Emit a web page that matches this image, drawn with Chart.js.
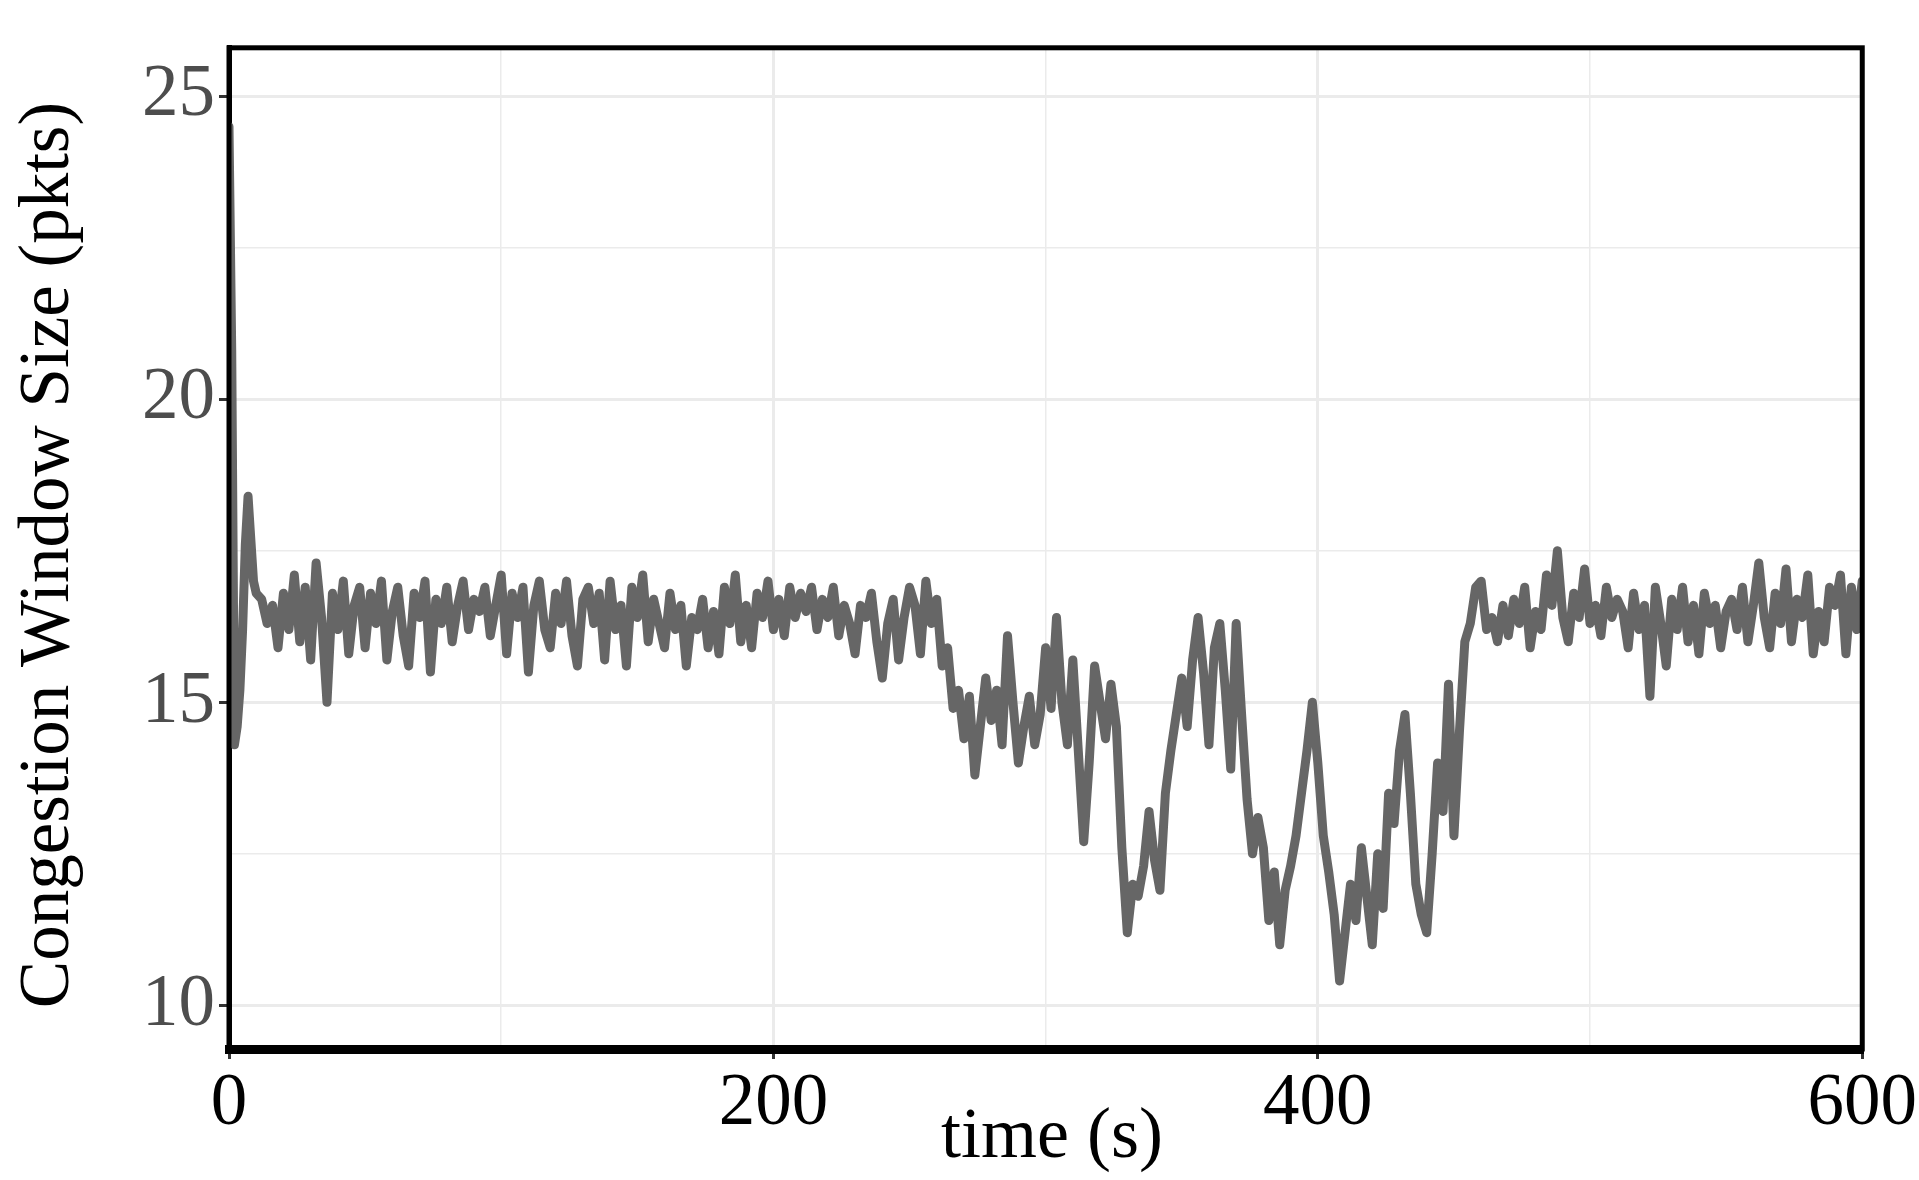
<!DOCTYPE html>
<html>
<head>
<meta charset="utf-8">
<script src="https://cdn.jsdelivr.net/npm/chart.js@4"></script>
<style>
html, body { margin: 0; padding: 0; background: #fff; }
#wrap { width: 1919px; height: 1180px; }
</style>
</head>
<body>
<div id="wrap"><canvas id="cwnd"></canvas></div>
<script>
// sample times (s): 0..10 every 1s, then every 2s up to 600
var startTimes = [0, 1, 2, 3, 4, 5, 6, 7, 8, 9, 10];
var cwndValues = [
  24.5, 20.8, 14.3, 14.6, 15.2, 16.2, 17.6, 18.4, 17.7, 17.0, 16.8,
  16.7, 16.3, 16.6, 15.9, 16.8, 16.2, 17.1, 16.0, 16.9, 15.7, 17.3, 16.4, 15.0, 16.8, 16.2, 17.0, 15.8, 16.6, 16.9, 15.9,
  16.8, 16.3, 17.0, 15.7, 16.5, 16.9, 16.1, 15.6, 16.8, 16.4, 17.0, 15.5, 16.7, 16.3, 16.9, 16.0, 16.6, 17.0, 16.2, 16.7,
  16.5, 16.9, 16.1, 16.6, 17.1, 15.8, 16.8, 16.4, 16.9, 15.5, 16.6, 17.0, 16.2, 15.9, 16.8, 16.3, 17.0, 16.1, 15.6, 16.7,
  16.9, 16.3, 16.8, 15.7, 17.0, 16.2, 16.6, 15.6, 16.9, 16.4, 17.1, 16.0, 16.7, 16.3, 15.9, 16.8, 16.2, 16.6, 15.6, 16.4,
  16.2, 16.7, 15.9, 16.5, 15.8, 16.9, 16.3, 17.1, 16.0, 16.6, 15.9, 16.8, 16.4, 17.0, 16.2, 16.7, 16.1, 16.9, 16.4, 16.8,
  16.5, 16.9, 16.2, 16.7, 16.4, 16.9, 16.1, 16.6, 16.3, 15.8, 16.6, 16.4, 16.8, 16.0, 15.4, 16.3, 16.7, 15.7, 16.4, 16.9,
  16.6, 15.8, 17.0, 16.3, 16.7, 15.6, 15.9, 14.9, 15.2, 14.4, 15.1, 13.8, 14.6, 15.4, 14.7, 15.2, 14.3, 16.1, 15.0, 14.0,
  14.6, 15.1, 14.3, 14.8, 15.9, 14.9, 16.4, 15.0, 14.3, 15.7, 14.2, 12.7, 14.0, 15.6, 15.0, 14.4, 15.3, 14.6, 12.6, 11.2,
  12.0, 11.8, 12.3, 13.2, 12.4, 11.9, 13.5, 14.2, 14.8, 15.4, 14.6, 15.7, 16.4, 15.5, 14.3, 15.9, 16.3, 15.2, 13.9, 16.3,
  14.8, 13.4, 12.5, 13.1, 12.6, 11.4, 12.2, 11.0, 11.9, 12.3, 12.8, 13.5, 14.2, 15.0, 14.0, 12.8, 12.2, 11.5, 10.4, 11.2,
  12.0, 11.4, 12.6, 11.8, 11.0, 12.5, 11.6, 13.5, 13.0, 14.2, 14.8, 13.5, 12.0, 11.5, 11.2, 12.5, 14.0, 13.2, 15.3, 12.8,
  14.5, 16.0, 16.3, 16.9, 17.0, 16.2, 16.4, 16.0, 16.6, 16.1,
  16.7, 16.3, 16.9, 15.9, 16.5, 16.2, 17.1, 16.6, 17.5, 16.4, 16.0, 16.8, 16.4, 17.2, 16.3, 16.6, 16.1, 16.9, 16.4, 16.7,
  16.5, 15.9, 16.8, 16.2, 16.6, 15.1, 16.9, 16.3, 15.6, 16.7, 16.2, 16.9, 16.0, 16.6, 15.8, 16.8, 16.3, 16.6, 15.9, 16.5,
  16.7, 16.2, 16.9, 16.0, 16.6, 17.3, 16.4, 15.9, 16.8, 16.3, 17.2, 16.0, 16.7, 16.4, 17.1, 15.8, 16.5, 16.0, 16.9, 16.6,
  17.1, 15.8, 16.9, 16.2, 17.0
];
var xMajorTicks = [0, 200, 400, 600];
var yMajorTicks = [10, 15, 20, 25];

var times = startTimes.slice();
while (times.length < cwndValues.length) times.push(times[times.length - 1] + 2);
var points = cwndValues.map(function (v, i) { return { x: times[i], y: v }; });

var FONT = '"Liberation Serif", "DejaVu Serif", serif';

// box around the panel + axis titles
var framePlugin = {
  id: 'frame',
  afterDraw: function (chart) {
    var a = chart.chartArea, c = chart.ctx;
    c.save();
    c.strokeStyle = '#000';
    c.lineWidth = 5;
    c.strokeRect(a.left, a.top, a.right - a.left, a.bottom - a.top);
    c.fillStyle = '#000';
    c.font = '72px ' + FONT;
    c.textAlign = 'center';
    c.textBaseline = 'alphabetic';
    c.fillText('time (s)', 1052, 1157);
    c.font = '71px ' + FONT;
    c.translate(68, 555);
    c.rotate(-Math.PI / 2);
    c.fillText('Congestion Window Size (pkts)', 0, 0);
    c.restore();
  }
};

new Chart(document.getElementById('cwnd'), {
  type: 'scatter',
  data: {
    datasets: [{
      data: points,
      showLine: true,
      borderColor: '#666666',
      borderWidth: 9,
      pointRadius: 0,
      tension: 0,
      borderJoinStyle: 'round',
      borderCapStyle: 'round'
    }]
  },
  options: {
    responsive: true,
    maintainAspectRatio: false,
    animation: false,
    layout: { padding: { top: -30, right: 50, left: 0, bottom: 0 } },
    plugins: { legend: { display: false }, tooltip: { enabled: false } },
    scales: {
      x: {
        type: 'linear',
        min: 0, max: 600,
        afterFit: function (s) { s.height = 131; },
        border: { display: true, color: '#000', width: 9 },
        grid: {
          color: '#ebebeb',
          lineWidth: function (ctx) { return xMajorTicks.indexOf(ctx.tick.value) >= 0 ? 3 : 1.5; },
          tickColor: function (ctx) { return xMajorTicks.indexOf(ctx.tick.value) >= 0 ? '#333' : 'rgba(0,0,0,0)'; },
          tickLength: 10
        },
        ticks: {
          stepSize: 100,
          maxRotation: 0,
          autoSkip: false,
          padding: 2,
          color: '#000',
          font: { family: FONT, size: 73 },
          callback: function (v) { return xMajorTicks.indexOf(v) >= 0 ? String(v) : ''; }
        }
      },
      y: {
        min: 9.28, max: 25.8,
        afterFit: function (s) { s.width = 229; },
        afterBuildTicks: function (s) {
          s.ticks = [10, 12.5, 15, 17.5, 20, 22.5, 25].map(function (v) { return { value: v }; });
        },
        border: { display: true, color: '#000', width: 5 },
        grid: {
          color: '#ebebeb',
          lineWidth: function (ctx) { return yMajorTicks.indexOf(ctx.tick.value) >= 0 ? 3 : 1.5; },
          tickColor: function (ctx) { return yMajorTicks.indexOf(ctx.tick.value) >= 0 ? '#333' : 'rgba(0,0,0,0)'; },
          tickLength: 10
        },
        ticks: {
          padding: 4,
          color: '#4d4d4d',
          font: { family: FONT, size: 73 },
          callback: function (v) { return yMajorTicks.indexOf(v) >= 0 ? String(v) : ''; }
        }
      }
    }
  },
  plugins: [framePlugin]
});
</script>
</body>
</html>
